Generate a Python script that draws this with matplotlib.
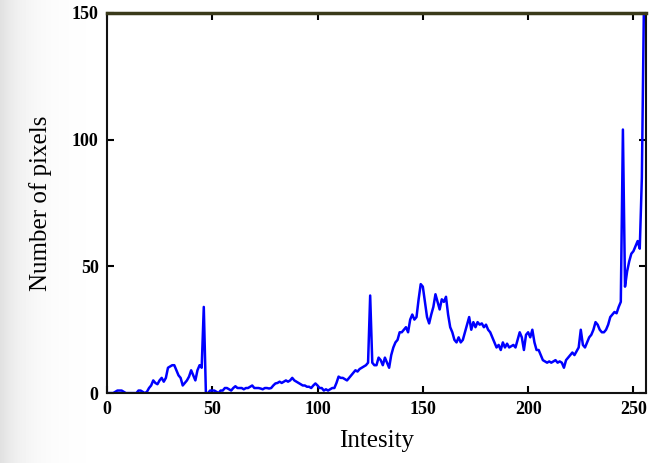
import matplotlib
matplotlib.use("Agg")
import matplotlib.pyplot as plt
import numpy as np

intensity = list(range(256))
pixels = [
    0, 0, 0, 0, 0.5, 1, 1, 1, 0.5, 0,
    0, 0, 0, 0, 0, 1, 1, 0.5, 0, 0.5,
    2, 3, 5, 4, 3.5, 5, 6, 4.5, 6, 10,
    10.5, 11, 11, 9, 7, 6, 3, 4, 5, 6.5,
    9, 7, 5, 9, 11, 10, 34, 0, 0, 1,
    1, 1, 0.5, 0, 1, 1, 2, 2, 1.5, 1,
    2, 2.7, 2, 2, 2, 1.5, 2, 2, 2.5, 3,
    2, 2, 2, 1.8, 1.5, 2, 2, 1.8, 2, 3,
    3.8, 4, 4.5, 4, 4.5, 5, 4.5, 5, 6, 5,
    4.5, 4, 3.5, 3, 3, 2.5, 2.5, 2, 3, 3.8,
    3, 2, 2, 1, 1.5, 1, 1.5, 2, 2, 4,
    6.5, 6, 6, 5.5, 5, 6, 7, 8, 9, 8.5,
    9.5, 10, 10.5, 11, 12, 38.5, 12, 11, 11, 14,
    13, 11, 14, 12, 10, 15, 18, 20, 21, 24,
    24, 25, 26, 24, 29, 31, 29, 30, 37, 43,
    42, 36, 30, 27.5, 31, 34, 39, 36, 33, 37,
    36, 38, 31, 26, 24, 21, 20, 22, 20, 21,
    24, 27, 30, 25, 28, 26, 28, 27, 27.5, 26,
    27, 25, 24, 22, 20, 18, 19, 17, 20, 18,
    19.5, 18, 18.5, 19, 18, 21, 24, 22, 17, 23,
    24, 22, 25, 20, 17, 17, 15, 13, 12.5, 12,
    12.5, 12, 12.5, 13, 12, 12.5, 12, 10, 13, 14,
    15, 16, 15, 16.5, 18, 25, 19, 18, 20, 22,
    23, 25, 28, 27, 25, 24, 24, 25, 27, 30,
    31, 32, 31.5, 34, 36, 104, 42, 48, 52, 55,
    56, 58, 60, 57, 85, 155,
]

xticks = [0, 50, 100, 150, 200, 250]
yticks = [0, 50, 100, 150]

plt.rcParams['font.family'] = ['Liberation Serif', 'DejaVu Serif']

fig = plt.figure(figsize=(6.64, 4.63), dpi=100, facecolor='white')

# faint grey backdrop fading in from the left edge, as in the scanned reference
bg = fig.add_axes([0, 0, 1, 1], zorder=-10)
xs = np.arange(664)
row = 1.0 - 0.12 * np.exp(-xs / 25.0)
grad = np.tile(row, (10, 1))
bg.imshow(grad, cmap='gray', vmin=0, vmax=1, aspect='auto', extent=[0, 1, 0, 1])
bg.axis('off')

ax = fig.add_axes([0.161, 0.151, 0.812, 0.821])
ax.set_facecolor('white')
ax.plot(intensity, pixels, color='#0000ff', lw=1.8)
ax.set_xlim(0, 256)
ax.set_ylim(0, 150)
ax.set_xticks(xticks)
ax.set_yticks(yticks)
ax.tick_params(direction='in', length=5, width=1.5, labelsize=13, pad=6,
               top=True, right=True)
for lab in ax.get_xticklabels() + ax.get_yticklabels():
    lab.set_fontweight('bold')
for s in ['left', 'bottom', 'right']:
    ax.spines[s].set_linewidth(1.5)
    ax.spines[s].set_color('#111111')
ax.spines['top'].set_linewidth(2.5)
ax.spines['top'].set_color('#3a3a1a')
ax.set_xlabel('Intesity', fontsize=18, labelpad=8)
ax.set_ylabel('Number of pixels', fontsize=18, labelpad=14)

fig.savefig('out.png', dpi=100)
